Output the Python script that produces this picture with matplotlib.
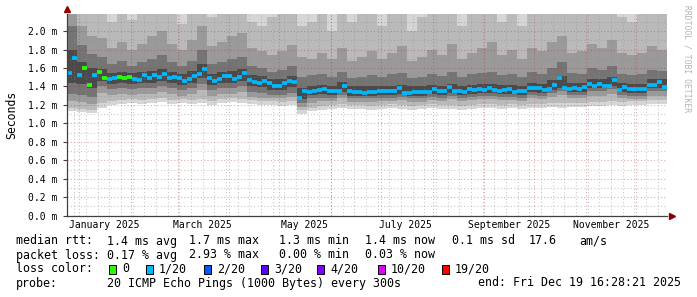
import matplotlib
matplotlib.use('Agg')
import matplotlib.pyplot as plt
import matplotlib.dates as mdates
from matplotlib.patches import Rectangle
from datetime import datetime, timedelta

plt.rcParams['font.family'] = 'DejaVu Sans Mono'

end = datetime(2025, 12, 19, 16, 28, 21)
start = end - timedelta(days=360)

# median rtt in ms, one value per 3 days
median_rtt = [1.55, 1.71, 1.52, 1.60, 1.42, 1.52, 1.56, 1.49, 1.48, 1.49, 1.50, 1.49, 1.50, 1.48, 1.47, 1.52, 1.49, 1.52, 1.50, 1.53, 1.49,
              1.50, 1.49, 1.46, 1.48, 1.51, 1.54, 1.59, 1.49, 1.46, 1.48, 1.51, 1.51, 1.48, 1.50, 1.55, 1.47, 1.45, 1.44, 1.46, 1.44, 1.41,
              1.40, 1.44, 1.46, 1.45, 1.28, 1.35, 1.34, 1.35, 1.36, 1.37, 1.35, 1.35, 1.35, 1.41, 1.35, 1.34, 1.34, 1.33, 1.34, 1.34, 1.35,
              1.35, 1.35, 1.35, 1.38, 1.33, 1.33, 1.34, 1.34, 1.34, 1.34, 1.37, 1.35, 1.35, 1.39, 1.35, 1.35, 1.34, 1.37, 1.36, 1.37, 1.36,
              1.38, 1.36, 1.35, 1.36, 1.37, 1.34, 1.35, 1.35, 1.38, 1.38, 1.38, 1.36, 1.37, 1.42, 1.49, 1.38, 1.37, 1.38, 1.37, 1.39, 1.43,
              1.41, 1.43, 1.41, 1.41, 1.47, 1.36, 1.39, 1.37, 1.37, 1.37, 1.37, 1.42, 1.42, 1.45, 1.39]
# lost pings (of 20), one value per 3 days
lost = [1, 1, 1, 0, 0, 1, 0, 0, 1, 1, 0, 0, 0] + [1] * 107

# smoke: sorted ping levels in ms, one value per 6 days (lo0/hi1 outer -> lo4/hi4 inner)
smoke_lo0 = [1.13, 1.12, 1.11,
             1.17, 1.20, 1.21, 1.22, 1.21, 1.22, 1.23, 1.21, 1.22, 1.21, 1.22, 1.20, 1.22, 1.23, 1.22, 1.21, 1.20, 1.20, 1.19, 1.20,
             1.10, 1.13, 1.15,
             1.16, 1.17, 1.16, 1.16, 1.15, 1.16, 1.17, 1.16, 1.15, 1.16, 1.17, 1.16, 1.16, 1.15, 1.16, 1.17, 1.17,
             1.16, 1.17, 1.16, 1.17, 1.17, 1.18, 1.17, 1.18, 1.18, 1.19, 1.19, 1.20, 1.19, 1.20, 1.20, 1.21, 1.21]
smoke_lo1 = [1.17, 1.16, 1.15,
             1.22, 1.24, 1.25, 1.26, 1.25, 1.26, 1.27, 1.25, 1.26, 1.25, 1.26, 1.24, 1.26, 1.27, 1.26, 1.25, 1.24, 1.24, 1.23, 1.24,
             1.14, 1.17, 1.19,
             1.20, 1.21, 1.20, 1.20, 1.19, 1.20, 1.21, 1.20, 1.19, 1.20, 1.21, 1.20, 1.20, 1.19, 1.20, 1.21, 1.21,
             1.20, 1.21, 1.20, 1.21, 1.21, 1.22, 1.22, 1.22, 1.22, 1.23, 1.23, 1.24, 1.23, 1.24, 1.24, 1.25, 1.25]
smoke_lo2 = [1.24, 1.23, 1.21,
             1.33, 1.31, 1.32, 1.31, 1.32, 1.32, 1.34, 1.32, 1.30, 1.32, 1.36, 1.30, 1.32, 1.32, 1.34, 1.29, 1.28, 1.27, 1.27, 1.29,
             1.18, 1.22, 1.24,
             1.24, 1.27, 1.23, 1.23, 1.23, 1.24, 1.24, 1.25, 1.23, 1.23, 1.25, 1.24, 1.26, 1.24, 1.25, 1.26, 1.26,
             1.25, 1.25, 1.24, 1.27, 1.26, 1.29, 1.31, 1.27, 1.27, 1.30, 1.30, 1.32, 1.27, 1.26, 1.26, 1.30, 1.30]
smoke_lo3 = [1.32, 1.31, 1.29,
             1.40, 1.37, 1.38, 1.37, 1.38, 1.38, 1.40, 1.38, 1.36, 1.38, 1.43, 1.36, 1.38, 1.38, 1.40, 1.34, 1.33, 1.31, 1.31, 1.33,
             1.22, 1.27, 1.28,
             1.28, 1.31, 1.27, 1.27, 1.27, 1.28, 1.28, 1.29, 1.27, 1.27, 1.29, 1.28, 1.30, 1.28, 1.29, 1.30, 1.30,
             1.29, 1.29, 1.28, 1.31, 1.30, 1.33, 1.35, 1.31, 1.31, 1.35, 1.35, 1.37, 1.31, 1.30, 1.30, 1.35, 1.35]
smoke_lo4 = [1.44, 1.43, 1.38,
             1.46, 1.43, 1.44, 1.43, 1.44, 1.44, 1.46, 1.44, 1.42, 1.44, 1.49, 1.42, 1.44, 1.44, 1.46, 1.40, 1.39, 1.36, 1.36, 1.39,
             1.26, 1.31, 1.32,
             1.31, 1.34, 1.30, 1.30, 1.30, 1.31, 1.31, 1.32, 1.30, 1.30, 1.32, 1.31, 1.33, 1.31, 1.32, 1.33, 1.33,
             1.32, 1.32, 1.31, 1.34, 1.33, 1.36, 1.38, 1.34, 1.34, 1.38, 1.38, 1.40, 1.34, 1.33, 1.33, 1.38, 1.38]
smoke_hi4 = [1.80, 1.66, 1.60,
             1.59, 1.55, 1.56, 1.55, 1.56, 1.57, 1.59, 1.56, 1.54, 1.57, 1.64, 1.54, 1.56, 1.57, 1.59, 1.52, 1.51, 1.48, 1.48, 1.51,
             1.38, 1.41, 1.42,
             1.41, 1.45, 1.40, 1.40, 1.40, 1.41, 1.41, 1.42, 1.40, 1.40, 1.42, 1.41, 1.43, 1.41, 1.42, 1.43, 1.43,
             1.42, 1.42, 1.41, 1.44, 1.43, 1.47, 1.51, 1.44, 1.44, 1.48, 1.48, 1.50, 1.44, 1.43, 1.43, 1.48, 1.48]
smoke_hi3 = [2.05, 1.85, 1.75,
             1.72, 1.64, 1.68, 1.62, 1.66, 1.70, 1.74, 1.66, 1.62, 1.68, 1.80, 1.64, 1.66, 1.70, 1.72, 1.62, 1.60, 1.56, 1.58, 1.62,
             1.50, 1.52, 1.54,
             1.50, 1.56, 1.49, 1.50, 1.52, 1.50, 1.53, 1.55, 1.49, 1.50, 1.54, 1.51, 1.56, 1.50, 1.53, 1.55, 1.56,
             1.52, 1.54, 1.50, 1.56, 1.54, 1.60, 1.66, 1.55, 1.54, 1.60, 1.58, 1.62, 1.54, 1.52, 1.53, 1.58, 1.57]
smoke_hi2 = [2.30, 2.05, 1.95,
             1.92, 1.82, 1.88, 1.80, 1.86, 1.95, 2.00, 1.86, 1.80, 1.90, 2.05, 1.84, 1.88, 1.95, 1.98, 1.82, 1.78, 1.74, 1.78, 1.85,
             1.72, 1.70, 1.76,
             1.70, 1.82, 1.68, 1.72, 1.78, 1.70, 1.76, 1.84, 1.68, 1.72, 1.80, 1.74, 1.86, 1.70, 1.76, 1.82, 1.88,
             1.74, 1.80, 1.70, 1.82, 1.78, 1.88, 1.95, 1.76, 1.78, 1.86, 1.82, 1.90, 1.76, 1.74, 1.76, 1.84, 1.80]
smoke_hi1 = [2.50, 2.40, 2.30,
             2.25, 2.10, 2.30, 2.12, 2.25, 2.35, 2.40, 2.20, 2.08, 2.30, 2.40, 2.15, 2.25, 2.30, 2.35, 2.10, 2.05, 2.15, 2.20, 2.30,
             2.05, 2.10, 2.25,
             2.00, 2.25, 2.10, 2.20, 2.30, 2.05, 2.25, 2.35, 2.00, 2.15, 2.30, 2.20, 2.35, 2.05, 2.20, 2.30, 2.35,
             2.10, 2.25, 2.05, 2.30, 2.20, 2.35, 2.40, 2.20, 2.25, 2.35, 2.30, 2.40, 2.15, 2.10, 2.20, 2.30, 2.25]

loss_colors = {0: '#26ff00', 1: '#00b8ff', 2: '#0059ff', 3: '#5e00ff', 4: '#7e00ff', 10: '#dd00ff', 19: '#ff0000'}
legend_labels = ['0', '1/20', '2/20', '3/20', '4/20', '10/20', '19/20']

fig = plt.figure(figsize=(6.97, 2.97), dpi=100)
ax = fig.add_axes([67/697, (297-215.7)/297, 600/697, 201.7/297])

# smoke layers, outer (light) to inner (dark)
smoke_edges = mdates.date2num([start + timedelta(days=6*j) for j in range(len(smoke_lo0) + 1)])
top = [3.0] * len(smoke_lo0)
layers = [(smoke_lo0, top, '#d6d6d6'), (smoke_lo1, smoke_hi1, '#bababa'), (smoke_lo2, smoke_hi2, '#9a9a9a'),
          (smoke_lo3, smoke_hi3, '#747474'), (smoke_lo4, smoke_hi4, '#4a4a4a')]
for lo, hi, col in layers:
    ax.fill_between(smoke_edges, list(lo) + [lo[-1]], list(hi) + [hi[-1]], step='post', color=col, lw=0, zorder=1)

# median, coloured by packet loss
med_edges = mdates.date2num([start + timedelta(days=3*i) for i in range(len(median_rtt) + 1)])
ax.hlines(median_rtt, med_edges[:-1], med_edges[1:], colors=[loss_colors[l] for l in lost], lw=2.7, zorder=4)

ax.set_xlim(mdates.date2num(start), mdates.date2num(end))
ax.set_ylim(0, 2.185)

# grid
for k in range(22):
    v = k * 0.1
    if k % 2 == 0:
        ax.axhline(v, color='#b03030', alpha=0.4, lw=0.8, ls=(0, (1, 2)), zorder=3)
    else:
        ax.axhline(v, color='#8c8c8c', alpha=0.45, lw=0.8, ls=(0, (1, 2)), zorder=3)
d = datetime(2024, 12, 29)
while d < end:
    ax.axvline(mdates.date2num(d), color='#8c8c8c', alpha=0.45, lw=0.8, ls=(0, (1, 2)), zorder=3)
    d += timedelta(days=7)
for m in range(1, 13):
    ax.axvline(mdates.date2num(datetime(2025, m, 1)), color='#b03030', alpha=0.4, lw=0.8, ls=(0, (1, 2)), zorder=3)

ax.set_yticks([k * 0.2 for k in range(11)])
ax.set_yticklabels(['%.1f m' % (k * 0.2) for k in range(11)], fontsize=7)
xt = [datetime(2025, m, 16) for m in (1, 3, 5, 7, 9, 11)]
ax.set_xticks(mdates.date2num(xt))
ax.set_xticklabels([t.strftime('%B %Y') for t in xt], fontsize=7)
ax.tick_params(axis='x', length=0, pad=3)
ax.tick_params(axis='y', length=3, width=0.8, color='#404040', pad=4)
for s in ['top', 'right']:
    ax.spines[s].set_visible(False)
for s in ['left', 'bottom']:
    ax.spines[s].set_color('#404040')
    ax.spines[s].set_linewidth(0.9)
    ax.spines[s].set_zorder(5)
ax.plot([0], [1.025], marker='^', color='#8b0000', ms=4, transform=ax.transAxes, clip_on=False)
ax.plot([1.008], [0], marker='>', color='#8b0000', ms=4, transform=ax.transAxes, clip_on=False)

fig.text(12/697, 1 - 115/297, 'Seconds', rotation=90, ha='center', va='center', fontsize=8.3)
fig.text(687/697, 1 - 5/297, 'RRDTOOL / TOBI OETIKER', rotation=270, ha='center', va='top', fontsize=5.8, color='#b4b4b4')

# legend / statistics
fs = 8.4
def row(y, items):
    for x, s in items:
        fig.text(x/697, 1 - y/297, s, ha='left', va='center', fontsize=fs)

row(241, [(16, 'median rtt:'), (107, '1.4 ms avg'), (189, '1.7 ms max'), (279, '1.3 ms min'), (365, '1.4 ms now'),
          (452, '0.1 ms sd'), (529, '17.6'), (579, 'am/s')])
row(255, [(16, 'packet loss:'), (107, '0.17 % avg'), (189, '2.93 % max'), (279, '0.00 % min'), (365, '0.03 % now')])
row(269, [(16, 'loss color:')])
box_x = [109, 146, 204, 261, 317, 378, 442]
for bx, key, lab in zip(box_x, loss_colors, legend_labels):
    fig.add_artist(Rectangle((bx/697, 1 - 273.5/297), 7/697, 9/297, transform=fig.transFigure,
                             facecolor=loss_colors[key], edgecolor='black', lw=0.7))
    fig.text((bx + 13)/697, 1 - 269/297, lab, ha='left', va='center', fontsize=fs)
row(283, [(16, 'probe:'), (107, '20 ICMP Echo Pings (1000 Bytes) every 300s'), (478, 'end: Fri Dec 19 16:28:21 2025')])

fig.savefig('out.png', dpi=100)
